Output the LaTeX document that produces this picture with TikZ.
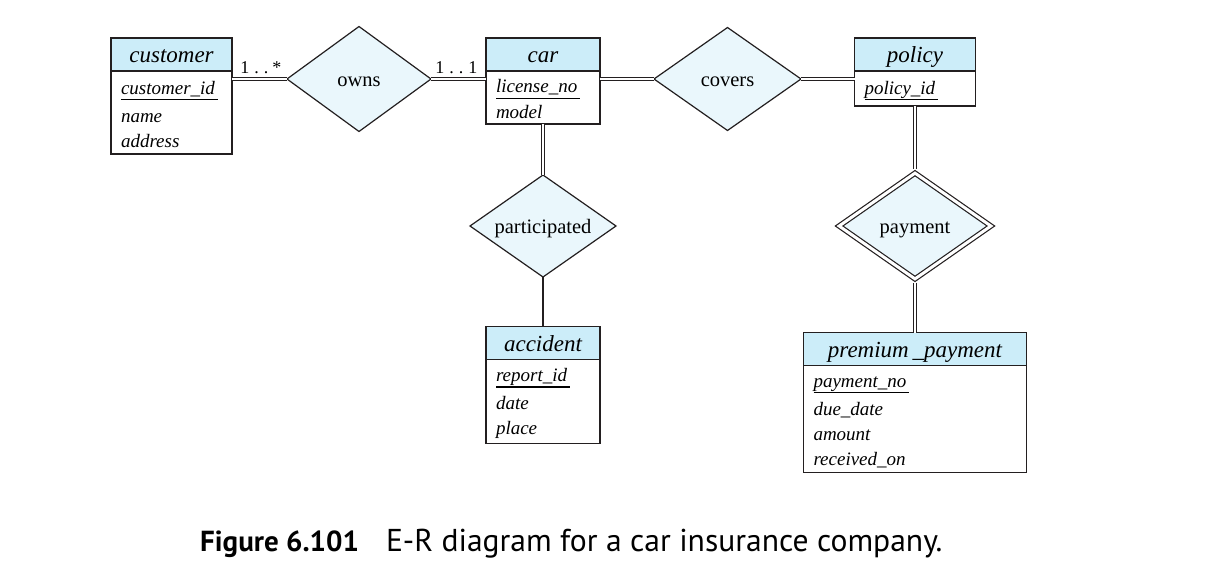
\documentclass[tikz,border=0pt]{standalone}
\usepackage{fontspec}
\setmainfont{Liberation Serif}
\newfontfamily\capfont{PT Sans}
\usetikzlibrary{shapes.geometric}
\usetikzlibrary{positioning}
\usetikzlibrary{calc}
\definecolor{erline}{RGB}{35,31,32}
\definecolor{enthead}{RGB}{204,237,249}
\definecolor{relfill}{RGB}{234,247,252}
\newcommand{\keyattr}[1]{\setbox0\hbox{#1\hspace{3pt}}\rule{0pt}{17pt}\rlap{\rule[-5.8pt]{\wd0}{1.2pt}}#1}
\tikzset{
  entity head/.style={draw=erline, fill=enthead, line width=1.2pt, outer sep=0pt, inner sep=0pt,
    minimum height=33pt, text height=18.5pt, text depth=2pt, font=\fontsize{23}{25}\selectfont\itshape},
  entity body/.style={draw=erline, fill=white, line width=1.2pt, outer sep=0pt, inner xsep=10pt,
    inner ysep=0pt, align=left, font=\fontsize{19}{25}\selectfont\itshape},
  relation/.style={diamond, aspect=1.4, draw=erline, fill=relfill, line width=1.2pt, outer sep=0pt,
    inner sep=0pt, text height=17pt, text depth=2pt, font=\fontsize{20.5}{22}\selectfont},
  total/.style={draw=erline, line width=0.9pt, double, double distance=1.6pt},
  partial/.style={draw=erline, line width=1.2pt},
  card/.style={font=\fontsize{18}{20}\selectfont, inner sep=0pt, anchor=base west}
}

\begin{document}
\begin{tikzpicture}[x=1pt, y=-1pt]
\useasboundingbox (0,0) rectangle (1213,586);

% entities
\node[entity head, minimum width=121pt] (customer) at (171.5,54.5) {customer};
\node[entity body, text width=101pt, minimum height=83pt, below=0pt of customer] (customer body)
  {\keyattr{customer\_id}\\[2.5pt] name\\ address};

\node[entity head, minimum width=114pt] (car) at (543,54.5) {car};
\node[entity body, text width=94pt, minimum height=53pt, below=0pt of car] (car body)
  {\keyattr{license\_no}\\[1pt] model};

\node[entity head, minimum width=121pt] (policy) at (915,54.5) {policy};
\node[entity body, text width=101pt, minimum height=35pt, below=0pt of policy] (policy body)
  {\keyattr{policy\_id}};

\node[entity head, minimum width=114pt] (accident) at (543,343) {accident};
\node[entity body, text width=94pt, minimum height=84pt, below=0pt of accident] (accident body)
  {\keyattr{report\_id}\\[2.5pt] date\\ place};

\node[entity head, minimum width=223pt] (premium) at (915,349) {premium\,\_payment};
\node[entity body, text width=203pt, minimum height=107pt, below=0pt of premium] (premium body)
  {\keyattr{payment\_no}\\[3pt] due\_date\\ amount\\ received\_on};

% relationships
\node[relation, minimum width=144pt, minimum height=105pt] (owns) at (359,79) {owns};
\node[relation, minimum width=147pt, minimum height=103pt] (covers) at (727.5,79) {covers};
\node[relation, minimum width=146pt, minimum height=102pt] (participated) at (543,226) {participated};
\node[relation, double, double distance=3pt, outer sep=2.7pt, minimum width=154pt,
  minimum height=108pt] (payment) at (915,226) {payment};

% connectors
\draw[total] (owns.west -| customer body.east) -- (owns.west)
  node[card, pos=0, xshift=8pt, yshift=5pt] {1\hspace{5pt}.\hspace{5pt}.\hspace{4pt}*};
\draw[total] (owns.east) -- (owns.east -| car body.west)
  node[card, pos=0, xshift=4pt, yshift=5pt] {1\hspace{5pt}.\hspace{5pt}.\hspace{5pt}1};
\draw[total] (car body.east |- covers.west) -- (covers.west);
\draw[total] (covers.east) -- (covers.east -| policy body.west);
\draw[total] (car body.south) -- (participated.north);
\draw[partial] (participated.south) -- (accident.north);
\draw[total] (policy body.south) -- (payment.north);
\draw[total] (payment.south) -- (premium.north);

% caption
\node[anchor=base west, inner sep=0pt, font=\capfont\fontsize{31.6}{34}\selectfont] (caption) at (200,551)
  {{\fontsize{29}{34}\selectfont\bfseries Figure 6.101}\hspace{27pt}E-R diagram for a car insurance company.};
\end{tikzpicture}
\end{document}
